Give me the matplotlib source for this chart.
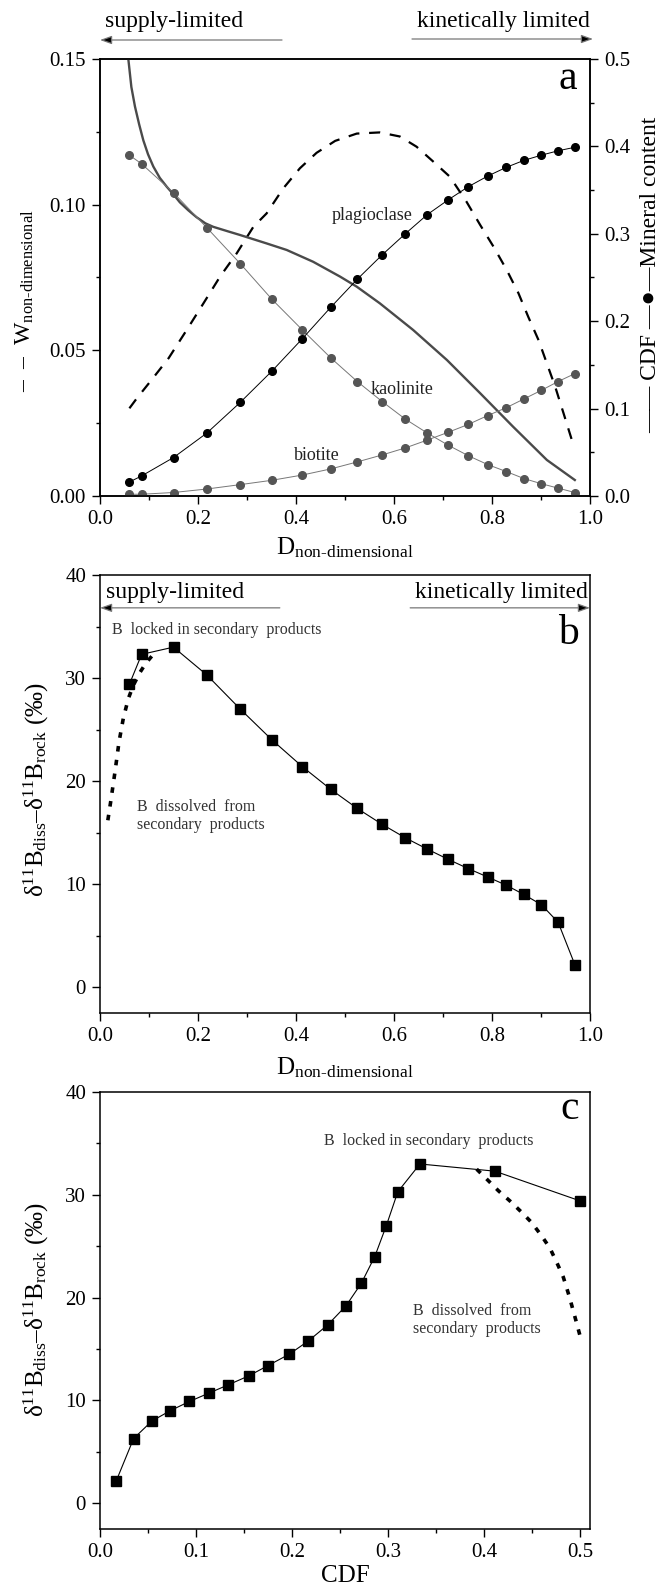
import matplotlib
matplotlib.use("Agg")
import matplotlib.pyplot as plt
from matplotlib.ticker import MultipleLocator

plt.rcParams['font.family'] = ['Liberation Serif', 'DejaVu Sans']
plt.rcParams['mathtext.fontset'] = 'custom'
plt.rcParams['mathtext.rm'] = 'Liberation Serif'
plt.rcParams['mathtext.it'] = 'Liberation Serif:italic'
plt.rcParams['mathtext.bf'] = 'Liberation Serif:bold'
plt.rcParams['lines.scale_dashes'] = False

# ---------------- data ----------------
D = [0.060, 0.085, 0.150, 0.218, 0.286, 0.351, 0.413, 0.471, 0.525, 0.576,
     0.623, 0.668, 0.711, 0.752, 0.791, 0.829, 0.865, 0.901, 0.935, 0.969]
plagioclase = [0.016, 0.023, 0.044, 0.072, 0.107, 0.143, 0.180, 0.216, 0.248, 0.276,
               0.300, 0.322, 0.339, 0.354, 0.366, 0.376, 0.384, 0.390, 0.395, 0.399]
kaolinite = [0.390, 0.380, 0.347, 0.307, 0.266, 0.225, 0.190, 0.158, 0.131, 0.108,
             0.088, 0.072, 0.058, 0.046, 0.036, 0.028, 0.020, 0.014, 0.009, 0.004]
biotite = [0.002, 0.002, 0.004, 0.008, 0.013, 0.018, 0.024, 0.031, 0.039, 0.047,
           0.055, 0.064, 0.073, 0.082, 0.092, 0.101, 0.111, 0.121, 0.131, 0.140]

W_D = [0.060, 0.075, 0.105, 0.140, 0.177, 0.211, 0.245, 0.279, 0.313, 0.340, 0.374,
       0.408, 0.442, 0.480, 0.524, 0.571, 0.612, 0.646, 0.680, 0.714, 0.748, 0.776,
       0.803, 0.830, 0.854, 0.874, 0.895, 0.912, 0.929, 0.946, 0.963]
W = [0.0301, 0.0335, 0.0398, 0.0473, 0.0570, 0.0661, 0.0753, 0.0833, 0.0924, 0.0970, 0.1056,
     0.1125, 0.1178, 0.1219, 0.1244, 0.1248, 0.1234, 0.1199, 0.1148, 0.1096, 0.1010, 0.0930,
     0.0856, 0.0776, 0.0696, 0.0615, 0.0535, 0.0455, 0.0375, 0.0284, 0.0192]

CDF_curve_D = [0.0565, 0.0578, 0.064, 0.0714, 0.080, 0.0884, 0.098, 0.1088, 0.122, 0.136,
               0.150, 0.163, 0.180, 0.197, 0.215, 0.231, 0.260, 0.286, 0.340, 0.381,
               0.435, 0.490, 0.524, 0.571, 0.639, 0.708, 0.776, 0.843, 0.912, 0.969]
CDF_curve = [0.53, 0.500, 0.468, 0.4455, 0.425, 0.407, 0.391, 0.377, 0.364, 0.354,
             0.345, 0.336, 0.327, 0.319, 0.312, 0.308, 0.303, 0.2986, 0.289, 0.2815,
             0.268, 0.251, 0.2395, 0.2205, 0.190, 0.1556, 0.1175, 0.0793, 0.0412, 0.0183]

delta_B = [29.4, 32.3, 33.0, 30.3, 27.0, 24.0, 21.4, 19.2, 17.35, 15.8,
           14.5, 13.4, 12.4, 11.5, 10.7, 9.9, 9.0, 8.0, 6.3, 2.2]
CDF = [0.500, 0.411, 0.333, 0.310, 0.298, 0.286, 0.272, 0.256, 0.237, 0.217,
       0.197, 0.175, 0.155, 0.133, 0.113, 0.093, 0.073, 0.054, 0.035, 0.017]

dissolved_D = [0.0160, 0.0218, 0.0306, 0.0388, 0.0476, 0.0578, 0.068, 0.0816, 0.093, 0.107]
dissolved_b = [16.2, 18.0, 20.9, 23.8, 26.1, 28.0, 29.3, 30.55, 31.4, 32.2]
dissolved_CDF = [0.392, 0.4007, 0.4146, 0.4267, 0.4389, 0.4493, 0.4597, 0.4684, 0.476,
                 0.4822, 0.4885, 0.4944, 0.4996]
dissolved_c = [32.5, 31.7, 30.4, 29.4, 28.3, 27.3, 26.0, 24.8, 23.3, 22.0, 20.1, 18.1, 16.3]

# ---------------- figure ----------------
W_px, H_px = 665, 1587
fig = plt.figure(figsize=(W_px / 100, H_px / 100), dpi=100)


def frac(x, y):
    return x / W_px, 1 - y / H_px


def axes_rect(top, bottom):
    return [100 / W_px, 1 - bottom / H_px, 490 / W_px, (bottom - top) / H_px]


TICK_FS = 15
LABEL_FS = 17
TXT = '#333333'
GRAY = '#555555'
DOT_STYLE = (0, (4.0, 6.0))


def style(ax):
    for s in ax.spines.values():
        s.set_linewidth(1.1)
    ax.tick_params(which='major', direction='out', length=6, width=1.0,
                   labelsize=TICK_FS, pad=4)
    ax.tick_params(which='minor', direction='out', length=3, width=1.0)


def arrow(start, end, transform):
    fig.add_artist(matplotlib.patches.FancyArrowPatch(
        start, end, transform=transform, arrowstyle='-|>,head_length=7,head_width=2.5',
        mutation_scale=1, lw=0.9, ec='#777777', fc='black', shrinkA=0, shrinkB=0))


# ---------- panel a ----------
axa = fig.add_axes(axes_rect(59, 496))
axa.plot(W_D, W, color='black', lw=1.6, linestyle=(0, (8, 7)))
axa.set_xlim(0, 1)
axa.set_ylim(0, 0.15)
axa.xaxis.set_major_locator(MultipleLocator(0.2))
axa.xaxis.set_minor_locator(MultipleLocator(0.1))
axa.yaxis.set_major_locator(MultipleLocator(0.05))
axa.yaxis.set_minor_locator(MultipleLocator(0.025))
axa.yaxis.set_major_formatter(matplotlib.ticker.FormatStrFormatter('%.2f'))
axa.xaxis.set_major_formatter(matplotlib.ticker.FormatStrFormatter('%.1f'))
style(axa)

axr = axa.twinx()
axr.set_ylim(0, 0.5)
axr.yaxis.set_major_locator(MultipleLocator(0.1))
axr.yaxis.set_minor_locator(MultipleLocator(0.05))
axr.yaxis.set_major_formatter(matplotlib.ticker.FormatStrFormatter('%.1f'))
style(axr)
axr.plot(CDF_curve_D, CDF_curve, color='#4a4a4a', lw=1.7, clip_on=True)
axr.plot(D, kaolinite, color='#777777', lw=0.7, marker='o', ms=5.5,
         mfc=GRAY, mec=GRAY)
axr.plot(D, biotite, color='#777777', lw=0.7, marker='o', ms=5.5,
         mfc=GRAY, mec=GRAY)
axr.plot(D, plagioclase, color='black', lw=0.7, marker='o', ms=5.5,
         mfc='black', mec='black')
axr.text(0.555, 0.3215, 'plagioclase', fontsize=13, ha='center', va='center', color='#222222')
axr.text(0.616, 0.1224, 'kaolinite', fontsize=13, ha='center', va='center', color='#222222')
axr.text(0.443, 0.0458, 'biotite', fontsize=13, ha='center', va='center', color='#222222')
axa.text(0.955, 0.955, 'a', transform=axa.transAxes, fontsize=30, ha='center', va='center')

fig.text(*frac(25, 301), '–  –  $\\mathrm{W}_{\\mathrm{non\\text{-}dimensional}}$',
         rotation=90, ha='center', va='center', fontsize=LABEL_FS)
fig.text(*frac(651, 275), '—— CDF —●—Mineral content', rotation=90,
         ha='center', va='center', fontsize=LABEL_FS)
fig.text(*frac(345, 548), '$\\mathrm{D}_{\\mathrm{non\\text{-}dimensional}}$',
         ha='center', va='center', fontsize=LABEL_FS + 1)

# header arrows
fig.text(*frac(105, 22), 'supply-limited', fontsize=17, ha='left', va='center')
fig.text(*frac(590, 22), 'kinetically limited', fontsize=17, ha='right', va='center')
arrow(frac(282, 40), frac(100, 40), fig.transFigure)
arrow(frac(412, 39), frac(593, 39), fig.transFigure)

# ---------- panel b ----------
axb = fig.add_axes(axes_rect(575, 1013))
axb.plot(dissolved_D, dissolved_b, color='black', lw=2.6, linestyle=DOT_STYLE)
axb.plot(D, delta_B, color='black', lw=0.8, marker='s', ms=6.5)
axb.set_xlim(0, 1)
axb.set_ylim(-2.5, 40)
axb.xaxis.set_major_locator(MultipleLocator(0.2))
axb.xaxis.set_minor_locator(MultipleLocator(0.1))
axb.yaxis.set_major_locator(MultipleLocator(10))
axb.yaxis.set_minor_locator(MultipleLocator(5))
axb.xaxis.set_major_formatter(matplotlib.ticker.FormatStrFormatter('%.1f'))
style(axb)
axb.text(0.955, 0.865, 'b', transform=axb.transAxes, fontsize=30, ha='center', va='center')
axb.text(0.012, 0.959, 'supply-limited', transform=axb.transAxes, fontsize=17,
         ha='left', va='center')
axb.text(0.996, 0.959, 'kinetically limited', transform=axb.transAxes, fontsize=17,
         ha='right', va='center')
arrow((0.367, 0.925), (0.0, 0.925), axb.transAxes)
arrow((0.633, 0.925), (1.0, 0.925), axb.transAxes)
axb.text(0.0245, 0.874, 'B  locked in secondary  products', transform=axb.transAxes,
         fontsize=11.5, ha='left', va='center', color=TXT)
axb.text(0.075, 0.45, 'B  dissolved  from\nsecondary  products', transform=axb.transAxes,
         fontsize=11.5, ha='left', va='center', color=TXT, linespacing=1.15)

ylab = '$\\mathrm{\\delta^{11}B_{diss}}$–$\\mathrm{\\delta^{11}B_{rock}}$ (‰)'
fig.text(*frac(36, 790), ylab, rotation=90, ha='center', va='center', fontsize=LABEL_FS + 1)
fig.text(*frac(345, 1068), '$\\mathrm{D}_{\\mathrm{non\\text{-}dimensional}}$',
         ha='center', va='center', fontsize=LABEL_FS + 1)

# ---------- panel c ----------
axc = fig.add_axes(axes_rect(1092, 1529))
axc.plot(dissolved_CDF, dissolved_c, color='black', lw=2.6, linestyle=DOT_STYLE)
axc.plot(CDF, delta_B, color='black', lw=0.8, marker='s', ms=6.5)
axc.set_xlim(0, 0.51)
axc.set_ylim(-2.5, 40)
axc.xaxis.set_major_locator(MultipleLocator(0.1))
axc.xaxis.set_minor_locator(MultipleLocator(0.05))
axc.yaxis.set_major_locator(MultipleLocator(10))
axc.yaxis.set_minor_locator(MultipleLocator(5))
axc.xaxis.set_major_formatter(matplotlib.ticker.FormatStrFormatter('%.1f'))
style(axc)
axc.text(0.958, 0.961, 'c', transform=axc.transAxes, fontsize=30, ha='center', va='center')
axc.text(0.457, 0.888, 'B  locked in secondary  products', transform=axc.transAxes,
         fontsize=11.5, ha='left', va='center', color=TXT)
axc.text(0.639, 0.479, 'B  dissolved  from\nsecondary  products', transform=axc.transAxes,
         fontsize=11.5, ha='left', va='center', color=TXT, linespacing=1.15)
fig.text(*frac(36, 1310), ylab, rotation=90, ha='center', va='center', fontsize=LABEL_FS + 1)
fig.text(*frac(345, 1576), 'CDF', ha='center', va='center', fontsize=LABEL_FS + 1)

fig.savefig('out.png', dpi=100)
